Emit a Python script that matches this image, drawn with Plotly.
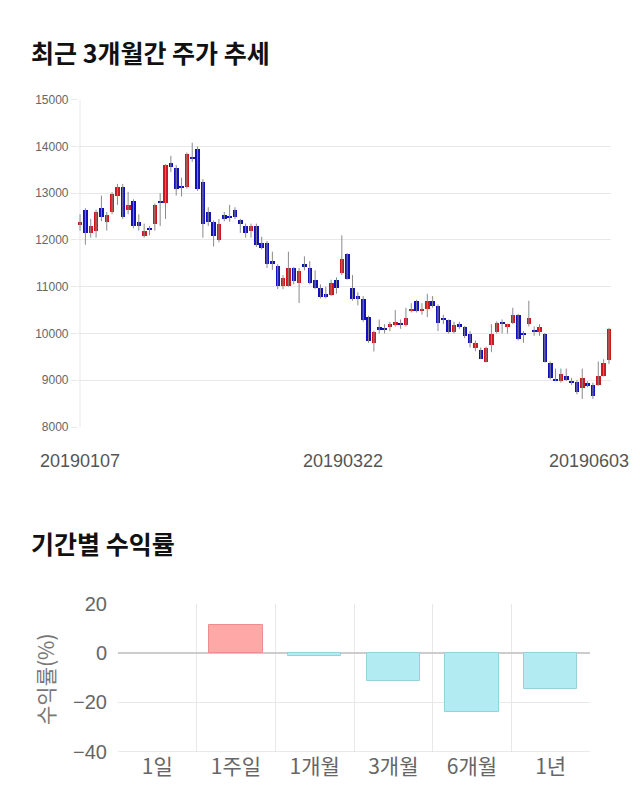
import plotly.graph_objects as go

# ---------------- data ----------------
date_labels = ["20190107", "20190322", "20190603"]
date_label_idx = [0, 50, 99]

opens = [12330, 12650, 12150, 12200, 12700, 12400, 12600, 12950, 13150, 12640,
         12850, 12400, 12100, 12260, 12350, 12850, 12800, 13650, 13550, 13150,
         13150, 13760, 13950, 13250, 12600, 12400, 12000, 12550, 12510, 12650,
         12440, 12300, 12200, 12300, 11950, 11950, 11550, 11450, 11030, 11030,
         11400, 11090, 11490, 11400, 11150, 10990, 10850, 10830, 11150, 11290,
         11700, 10990, 10800, 10740, 10350, 9800, 10140, 10110, 10140, 10190,
         10240, 10190, 10490, 10700, 10490, 10540, 10700, 10590, 10340, 10290,
         10040, 10200, 10140, 9990, 9700, 9650, 9400, 9760, 10040, 10250,
         10140, 10240, 10400, 10000, 10200, 10090, 10040, 10000, 9380, 9020,
         8990, 9100, 8990, 8960, 8850, 8940, 8900, 8900, 9100, 9440]
highs = [12550, 12680, 12450, 12650, 12950, 12600, 13020, 13200, 13200, 13030,
         12870, 12550, 12350, 12300, 12780, 13000, 13620, 13800, 13600, 13330,
         13870, 14080, 14000, 13300, 12700, 12420, 12450, 12600, 12750, 12700,
         12450, 12350, 12350, 12350, 12070, 11980, 11750, 11480, 11250, 11750,
         11420, 11400, 11650, 11550, 11350, 11050, 11000, 11150, 11200, 12100,
         11720, 11250, 10880, 10800, 10380, 10060, 10300, 10200, 10250, 10500,
         10300, 10550, 10650, 10720, 10650, 10850, 10800, 10620, 10400, 10300,
         10250, 10250, 10160, 10050, 9850, 9700, 9720, 10200, 10260, 10300,
         10210, 10550, 10420, 10050, 10700, 10150, 10200, 10010, 9400, 9250,
         9250, 9250, 9050, 9000, 9250, 8980, 8950, 9400, 9450, 10120]
lows = [12200, 11900, 12050, 12050, 12400, 12200, 12550, 12750, 12450, 12550,
        12250, 12200, 12050, 12100, 12200, 12300, 12450, 13450, 12950, 12930,
        13100, 13670, 13050, 12050, 12300, 11860, 11950, 12400, 12390, 12450,
        12150, 12050, 12050, 11850, 11800, 11400, 11360, 10950, 10950, 11000,
        11050, 10650, 11350, 11050, 10950, 10750, 10750, 10800, 10850, 11250,
        11150, 10700, 10600, 10250, 9800, 9615, 10000, 10000, 10050, 10150,
        10100, 10150, 10450, 10450, 10400, 10350, 10550, 10050, 10200, 10000,
        10000, 10100, 9900, 9700, 9620, 9450, 9380, 9600, 10000, 10000,
        10000, 10200, 9850, 9800, 10150, 9950, 9950, 9380, 9020, 8980,
        8950, 8980, 8900, 8700, 8600, 8850, 8600, 8880, 9080, 9350]
closes = [12400, 12150, 12300, 12600, 12500, 12550, 13000, 13150, 12500, 12750,
          12300, 12300, 12200, 12240, 12750, 12800, 13600, 13560, 13100, 13130,
          13850, 13740, 13100, 12350, 12400, 12100, 12350, 12450, 12490, 12500,
          12340, 12150, 12300, 11900, 11840, 11500, 11490, 11030, 11200, 11400,
          11130, 11350, 11430, 11090, 10990, 10790, 10790, 11090, 10990, 11600,
          11180, 10740, 10740, 10290, 9840, 10040, 10100, 10090, 10200, 10250,
          10190, 10340, 10540, 10490, 10540, 10700, 10590, 10240, 10290, 10040,
          10190, 10140, 9950, 9800, 9800, 9470, 9690, 10000, 10240, 10230,
          10200, 10400, 9890, 9980, 10340, 10040, 10140, 9400, 9050, 9000,
          9130, 9010, 8960, 8760, 9050, 8900, 8670, 9100, 9370, 10100]

periods = ["1일", "1주일", "1개월", "3개월", "6개월", "1년"]
returns = [0.0, 11.4, -1.0, -11.5, -24.0, -14.4]

# ---------------- styling ----------------
UP = "#d0161d"
DOWN = "#1010bd"
WICK = "#8a8a8a"
GRID = "#e8e8e8"
NUM_FONT = "Liberation Sans, Arial, Noto Sans CJK KR, sans-serif"
KR_FONT = "Noto Sans CJK KR, sans-serif"

W, H = 640, 810


def px_x(p):
    return p / W


def px_y(p):
    return 1 - p / H


n = len(opens)
idx = list(range(n))

# wicks
wx, wy = [], []
for i in idx:
    wx += [i, i, None]
    wy += [lows[i], highs[i], None]

body_base = [min(o, c) for o, c in zip(opens, closes)]
body_h = [max(abs(c - o), 25) for o, c in zip(opens, closes)]
body_col = [UP if c > o else DOWN for o, c in zip(opens, closes)]

fig = go.Figure()
fig.add_trace(go.Scatter(x=wx, y=wy, mode="lines",
                         line=dict(color=WICK, width=1),
                         xaxis="x", yaxis="y", hoverinfo="skip",
                         showlegend=False))
fig.add_trace(go.Bar(x=idx, y=body_h, base=body_base, width=0.86,
                     marker=dict(color=body_col, line=dict(width=0)),
                     xaxis="x", yaxis="y", showlegend=False))

ret_col = ["#ffa8a8" if v > 0 else "#b3ebf3" for v in returns]
ret_line = ["#f08c8c" if v > 0 else "#95d3dc" for v in returns]
ret_lw = [1 if v != 0 else 0 for v in returns]
fig.add_trace(go.Bar(x=periods, y=returns, width=0.68,
                     marker=dict(color=ret_col,
                                 line=dict(color=ret_line, width=ret_lw)),
                     xaxis="x2", yaxis="y2", showlegend=False))

annotations = [
    dict(text="<b>최근 3개월간 주가 추세</b>", x=px_x(29), y=px_y(52),
         xref="paper", yref="paper", xanchor="left", yanchor="middle",
         showarrow=False, font=dict(family=KR_FONT, size=25, color="#111111")),
    dict(text="<b>기간별 수익률</b>", x=px_x(29), y=px_y(543),
         xref="paper", yref="paper", xanchor="left", yanchor="middle",
         showarrow=False, font=dict(family=KR_FONT, size=25, color="#111111")),
    dict(text="수익률(%)", x=px_x(45), y=px_y(679), xref="paper", yref="paper",
         textangle=-90, showarrow=False, xanchor="center", yanchor="middle",
         font=dict(family=KR_FONT, size=21, color="#777777")),
]
shifts = [0, -4, -20]
for lab, li, sh in zip(date_labels, date_label_idx, shifts):
    annotations.append(dict(text=lab, x=li, y=px_y(461), xref="x", yref="paper",
                            xshift=sh, showarrow=False, xanchor="center",
                            yanchor="middle",
                            font=dict(family=NUM_FONT, size=18, color="#555555")))

fig.update_layout(
    template="none",
    width=W, height=H,
    margin=dict(l=0, r=0, t=0, b=0, pad=0),
    paper_bgcolor="white", plot_bgcolor="white",
    bargap=0, showlegend=False,
    annotations=annotations,
    xaxis=dict(domain=[px_x(77.9), px_x(611.1)], range=[-0.4, 99.4],
               showgrid=False, showticklabels=False, zeroline=False,
               ticks="", fixedrange=True, automargin=False, showline=False),
    yaxis=dict(domain=[px_y(427), px_y(99.7)], range=[8000, 15000],
               tickvals=[8000, 9000, 10000, 11000, 12000, 13000, 14000, 15000],
               tickformat="d",
               gridcolor=GRID, gridwidth=1, zeroline=False, showline=False,
               ticks="outside", ticklen=6, tickcolor=GRID, automargin=False,
               tickfont=dict(family=NUM_FONT, size=12, color="#666666")),
    xaxis2=dict(domain=[px_x(118), px_x(590)], anchor="y2", type="category",
                tickson="boundaries", showgrid=True, gridcolor=GRID,
                ticks="", zeroline=False, automargin=False, showline=False,
                tickfont=dict(family=KR_FONT, size=21, color="#666666")),
    yaxis2=dict(domain=[px_y(751.5), px_y(604)], anchor="x2", range=[-40, 20],
                tickvals=[-40, -20, 0, 20], gridcolor=GRID, showline=False,
                zeroline=True, zerolinecolor="#cccccc", zerolinewidth=1.5,
                tickfont=dict(family=NUM_FONT, size=20, color="#666666"),
                ticks="", ticklabelstandoff=10, automargin=False),
    shapes=[dict(type="line", xref="x", yref="paper", x0=0, x1=0,
                 y0=px_y(427), y1=px_y(99.7), line=dict(color=GRID, width=1),
                 layer="below"),
            dict(type="line", xref="paper", yref="y2", x0=px_x(118), x1=px_x(590),
                 y0=-40, y1=-40, line=dict(color="#d4d4d4", width=1))],
)

fig.write_html("out.html")
